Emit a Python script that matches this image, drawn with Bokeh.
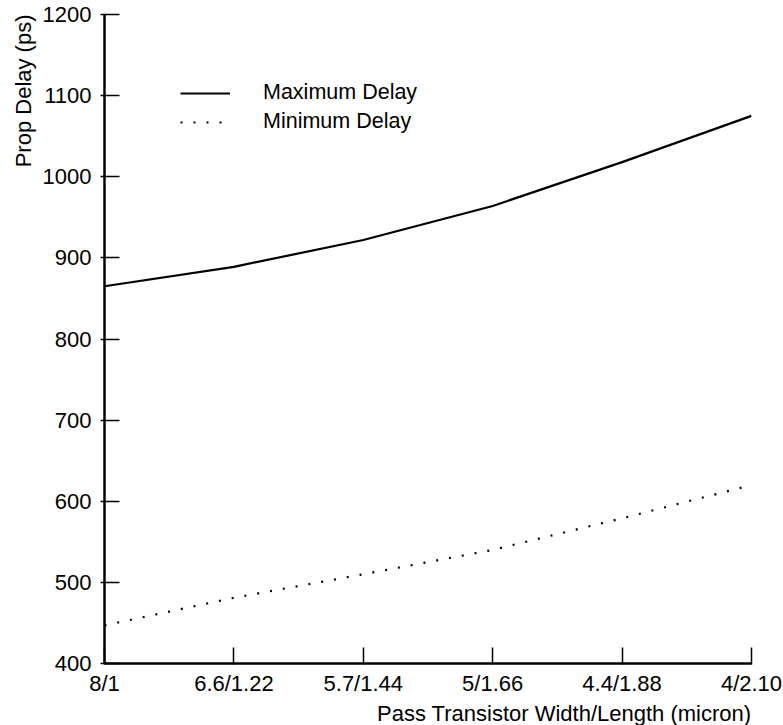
from bokeh.plotting import figure
from bokeh.models import Legend, LegendItem, FixedTicker, Title, Range1d
from bokeh.embed import file_html
from bokeh.resources import INLINE

# ---- data ----
categories = ["8/1", "6.6/1.22", "5.7/1.44", "5/1.66", "4.4/1.88", "4/2.10"]
max_delay = [865, 889, 922, 964, 1018, 1075]
min_delay = [447, 481, 510, 540, 579, 620]
y_ticks = [400, 500, 600, 700, 800, 900, 1000, 1100, 1200]

FONT = "Liberation Sans"
FS = "22px"

x = list(range(len(categories)))

p = figure(width=783, height=725, output_backend="svg", toolbar_location=None,
           x_range=Range1d(0, len(categories) - 1), y_range=Range1d(400, 1200),
           min_border_left=104, min_border_right=32, min_border_top=14,
           min_border_bottom=61)
p.outline_line_color = None
p.grid.visible = False
p.background_fill_color = "white"
p.border_fill_color = "white"

r_max = p.line(x, max_delay, line_color="black", line_width=2.2)
r_min = p.line(x, min_delay, line_color="black", line_width=2.2, line_dash="2 11")

# axes
p.xaxis.ticker = FixedTicker(ticks=x)
p.xaxis.major_label_overrides = {i: c for i, c in enumerate(categories)}
p.yaxis.ticker = FixedTicker(ticks=y_ticks)
for ax in (p.xaxis, p.yaxis):
    ax.axis_line_width = 2.5
    ax.axis_line_color = "black"
    ax.major_tick_line_width = 1.5
    ax.major_tick_line_color = "black"
    ax.minor_tick_line_color = None
    ax.major_label_text_font = FONT
    ax.major_label_text_font_size = FS
    ax.major_label_text_color = "black"
p.xaxis.major_tick_in = 16
p.xaxis.major_tick_out = 1
p.xaxis.major_label_standoff = 6
p.yaxis.major_tick_in = 15
p.yaxis.major_tick_out = 4
p.yaxis.major_label_standoff = 9

# axis titles
ytitle = Title(text="Prop Delay (ps)", align="right", text_font=FONT,
               text_font_size=FS, text_font_style="normal", text_color="black",
               standoff=8)
p.add_layout(ytitle, "left")
xtitle = Title(text="Pass Transistor Width/Length (micron)", align="right",
               text_font=FONT, text_font_size=FS, text_font_style="normal",
               text_color="black", standoff=0)
p.add_layout(xtitle, "below")

legend = Legend(items=[LegendItem(label="Maximum Delay", renderers=[r_max]),
                       LegendItem(label="Minimum Delay", renderers=[r_min])],
                location=(76, 529), margin=0, padding=0,
                glyph_width=50, glyph_height=10, label_height=10,
                label_standoff=33, spacing=4,
                label_text_font=FONT, label_text_font_size="21.5px",
                label_text_color="black",
                border_line_color=None, background_fill_alpha=0)
p.add_layout(legend)

open("out.html", "w").write(file_html(p, INLINE))
